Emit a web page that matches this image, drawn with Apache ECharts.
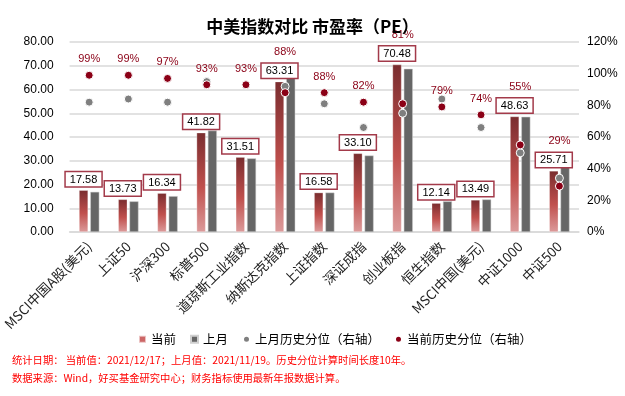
<!DOCTYPE html>
<html>
<head>
<meta charset="utf-8">
<script src="https://cdn.jsdelivr.net/npm/echarts@6/dist/echarts.min.js"></script>
<style>
html,body{margin:0;padding:0;background:#fff;}
#c{width:625px;height:396px;}
</style>
</head>
<body>
<div id="c"></div>
<script>
var categories = ['MSCI中国A股(美元)','上证50','沪深300','标普500','道琼斯工业指数','纳斯达克指数','上证指数','深证成指','创业板指','恒生指数','MSCI中国(美元)','中证1000','中证500'];
var currentPE = [17.58,13.73,16.34,41.82,31.51,63.31,16.58,33.10,70.48,12.14,13.49,48.63,25.71];
var lastMonthPE = [16.9,12.9,15.1,42.7,31.0,64.9,16.6,32.2,68.7,12.9,13.7,48.5,27.3];
var lastMonthPct = [82,84,82,95,93,92,81,66,75,84,66,50,34];
var currentPct = [99,99,97,93,93,88,88,82,81,79,74,55,29];
var leftTicks = [0,10,20,30,40,50,60,70,80];
var rightTicks = [0,20,40,60,80,100,120];

var FONT = '"Noto Sans CJK SC", "Liberation Sans", sans-serif';
var chart = echarts.init(document.getElementById('c'), null, {renderer:'canvas'});

function baseOption(pctLabelOffsets){
  return {
    animation:false,
    backgroundColor:'#fff',
    textStyle:{fontFamily:FONT},
    title:{
      text:'中美指数对比 市盈率（PE）',
      left:'center', top:13,
      textStyle:{fontSize:17,fontWeight:'bold',color:'#000',fontFamily:FONT}
    },
    grid:{left:69,right:46,top:42,bottom:164},
    legend:{
      left:133, top:328,
      itemWidth:7,itemHeight:7,itemGap:14,
      textStyle:{fontSize:12.5,color:'#000',fontFamily:FONT},
      data:[
        {name:'当前',icon:'rect',itemStyle:{color:'#cc6666'}},
        {name:'上月',icon:'rect',itemStyle:{color:'#666666'}},
        {name:'上月历史分位（右轴）',icon:'circle',itemStyle:{color:'#7f7f7f'}},
        {name:'当前历史分位（右轴）',icon:'circle',itemStyle:{color:'#8b0016'}}
      ]
    },
    xAxis:{
      type:'category',
      data:categories,
      axisLine:{lineStyle:{color:'#d9d9d9',width:1.5}},
      axisTick:{show:false},
      axisLabel:{interval:0,rotate:45,fontSize:13.5,color:'#222',margin:12,fontFamily:FONT}
    },
    yAxis:[
      {type:'value',min:leftTicks[0],max:leftTicks[leftTicks.length-1],interval:leftTicks[1]-leftTicks[0],
       axisLine:{show:false},axisTick:{show:false},
       axisLabel:{formatter:function(v){return v.toFixed(2);},fontSize:12,color:'#000',margin:16,fontFamily:'"Liberation Sans", sans-serif'},
       splitLine:{lineStyle:{color:'#d9d9d9',width:1.5}}},
      {type:'value',min:rightTicks[0],max:rightTicks[rightTicks.length-1],interval:rightTicks[1]-rightTicks[0],
       axisLine:{show:false},axisTick:{show:false},
       axisLabel:{formatter:'{value}%',fontSize:12,color:'#000',margin:8,fontFamily:'"Liberation Sans", sans-serif'},
       splitLine:{show:false}}
    ],
    series:[
      {name:'当前',type:'bar',yAxisIndex:0,barWidth:9,barGap:'25%',
       data:currentPE,
       itemStyle:{
         color:new echarts.graphic.LinearGradient(0,0,0,1,[
           {offset:0,color:'#7a2d2f'},{offset:0.55,color:'#c0504d'},{offset:1,color:'#dc9a9a'}
         ]),
         borderColor:'rgba(255,255,255,0.6)',borderWidth:0.5
       },
       label:{show:true,position:'top',distance:4,
         formatter:function(p){return p.value.toFixed(2);},
         fontSize:11,color:'#000',backgroundColor:'#fff',
         borderColor:'#a33a4a',borderWidth:1.5,padding:[2,4,1,4],fontFamily:'"Liberation Sans", sans-serif'},
       z:3},
      {name:'上月',type:'bar',yAxisIndex:0,barWidth:9,
       data:lastMonthPE,
       itemStyle:{color:'#666666',borderColor:'#d0d0d0',borderWidth:0.5},
       z:2},
      {name:'上月历史分位（右轴）',type:'scatter',yAxisIndex:1,
       data:lastMonthPct,symbolSize:8,
       itemStyle:{color:'#7f7f7f',borderColor:'#fff',borderWidth:1,opacity:1},
       z:4},
      {name:'当前历史分位（右轴）',type:'scatter',yAxisIndex:1,
       data:currentPct.map(function(v,i){
         return {value:v,label:{offset:[0,pctLabelOffsets?pctLabelOffsets[i]:0]}};
       }),
       symbolSize:8,
       itemStyle:{color:'#8b0016',borderColor:'#fff',borderWidth:1,opacity:1},
       label:{show:true,position:'top',distance:6,formatter:'{c}%',fontSize:11,color:'#8b0016',fontFamily:'"Liberation Sans", sans-serif'},
       z:5}
    ],
    graphic:[
      {type:'text',left:12,top:355,style:{text:'统计日期： 当前值：2021/12/17；上月值：2021/11/19。历史分位计算时间长度10年。',fill:'#ff0000',font:'10.3px '+FONT}},
      {type:'text',left:12,top:373,style:{text:'数据来源：Wind，好买基金研究中心；财务指标使用最新年报数据计算。',fill:'#ff0000',font:'10.3px '+FONT}}
    ]
  };
}

chart.setOption(baseOption(null));
// Move percentile labels that would collide with the bar value boxes above those boxes
var offsets = currentPct.map(function(p,i){
  var barTop = chart.convertToPixel({yAxisIndex:0}, currentPE[i]);
  var dotY = chart.convertToPixel({yAxisIndex:1}, p);
  if (dotY > barTop - 26) {
    return (barTop - 30) - (dotY - 16);
  }
  return 0;
});
chart.setOption(baseOption(offsets));
</script>
</body>
</html>
